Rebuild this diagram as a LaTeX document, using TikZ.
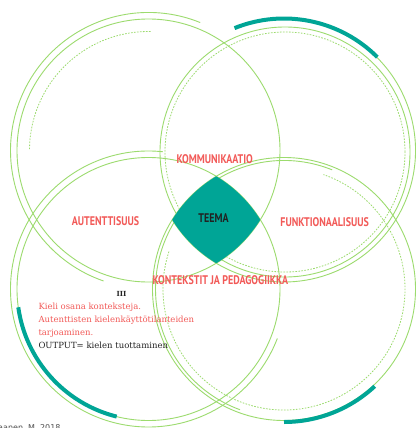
\documentclass[tikz,border=0pt]{standalone}
\usepackage{fontspec}
\usepackage{xcolor}
\usepackage{tikz}
\usetikzlibrary{calc}
\newfontfamily\labfont{PT Sans}
\newfontfamily\bodyfont{DejaVu Serif}
\newfontfamily\notefont{DejaVu Sans}
\newcommand{\narrow}[1]{\scalebox{0.8}[1]{#1}}
\definecolor{leaf}{HTML}{9CDB6E}
\definecolor{sea}{HTML}{00A596}
\definecolor{coral}{HTML}{F25A58}
\definecolor{ink}{HTML}{222222}
\tikzset{
  ring/.style={draw=leaf, line width=0.9pt},
  dring/.style={draw=leaf, line width=0.8pt, dash pattern=on 1.6pt off 1.4pt},
  band/.style={draw=sea, line width=4pt},
  lab/.style={text=coral, font=\labfont\bfseries\fontsize{12.5}{12}\selectfont, inner sep=0pt},
  labk/.style={lab, text=ink},
  body/.style={text=coral, font=\bodyfont\fontsize{8.5}{10}\selectfont, inner sep=0pt, anchor=base west},
  bodyk/.style={body, text=ink},
}

\begin{document}
\begin{tikzpicture}[x=1pt,y=1pt]
  \def\R{131.5}
  \fill[white] (0,0) rectangle (417,-428);
  \useasboundingbox (0,0) rectangle (417,-428);
  \coordinate (TL) at (148.5,-150.5);
  \coordinate (TR) at (284,-150.5);
  \coordinate (BL) at (148.5,-289);
  \coordinate (BR) at (284,-289);
  \coordinate (TRi) at (285,-152);

  % top left
  \draw[ring] (TL) circle[radius=\R];
  \draw[ring] ($(TL)+(68:138)$) arc[start angle=68, end angle=251, radius=138];
  \draw[dring] ($(TL)+(89:119)$) arc[start angle=89, end angle=180, radius=119];

  % top right
  \draw[ring] ($(TR)+(112:\R)$) arc[start angle=112, end angle=-148, radius=\R];
  \draw[ring] (TRi) circle[radius=125];
  \draw[dring] (TRi) circle[radius=120];
  \draw[band] ($(TR)+(45:132)$) arc[start angle=45, end angle=112, radius=132];

  % bottom left
  \draw[ring] (BL) circle[radius=\R];
  \draw[ring] ($(BL)+(84:138)$) arc[start angle=84, end angle=339, radius=138];
  \draw[band] ($(BL)+(188:\R)$) arc[start angle=188, end angle=256, radius=\R];

  % bottom right
  \draw[ring] (BR) circle[radius=\R];
  \draw[ring] ($(BR)+(68:128.5)$) arc[start angle=68, end angle=250, radius=128.5];
  \draw[dring] ($(BR)+(162:121)$) arc[start angle=162, end angle=431, radius=121];
  \draw[band] ($(BR)+(-47:133)$) arc[start angle=-47, end angle=-90, radius=133];

  % centre
  \begin{scope}
    \clip (TL) circle[radius=\R];
    \clip (TR) circle[radius=\R];
    \clip (BL) circle[radius=\R];
    \fill[sea] (BR) circle[radius=\R];
  \end{scope}

  \node[labk] (teema) at (213.5,-218.5) {\narrow{TEEMA}};
  \node[lab] (komm) at (214.7,-158.7) {\narrow{KOMMUNIKAATIO}};
  \node[lab] (aut) at (105.5,-220.7) {\narrow{AUTENTTISUUS}};
  \node[lab] (funk) at (324.7,-221.7) {\narrow{FUNKTIONAALISUUS}};
  \node[lab] (kont) at (220.3,-280) {\narrow{KONTEKSTIT JA PEDAGOGIIKKA}};

  \node[bodyk, anchor=center, font=\bodyfont\bfseries\fontsize{7}{8}\selectfont] (num) at (121.5,-294) {III};
  \node[body] (kieli) at (38.3,-309.5) {Kieli osana konteksteja.};
  \node[body] (tilan) at (38.3,-322.5) {Autenttisten kielenkäyttötilanteiden};
  \node[body] (tarj) at (38.3,-335.5) {tarjoaminen.};
  \node[bodyk] (outp) at (38.3,-348.5) {OUTPUT= kielen tuottaminen};
  \node[bodyk, font=\notefont\fontsize{8}{10}\selectfont, text=ink!80] (src) at (-2,-430.5) {aanen, M. 2018};
\end{tikzpicture}
\end{document}
